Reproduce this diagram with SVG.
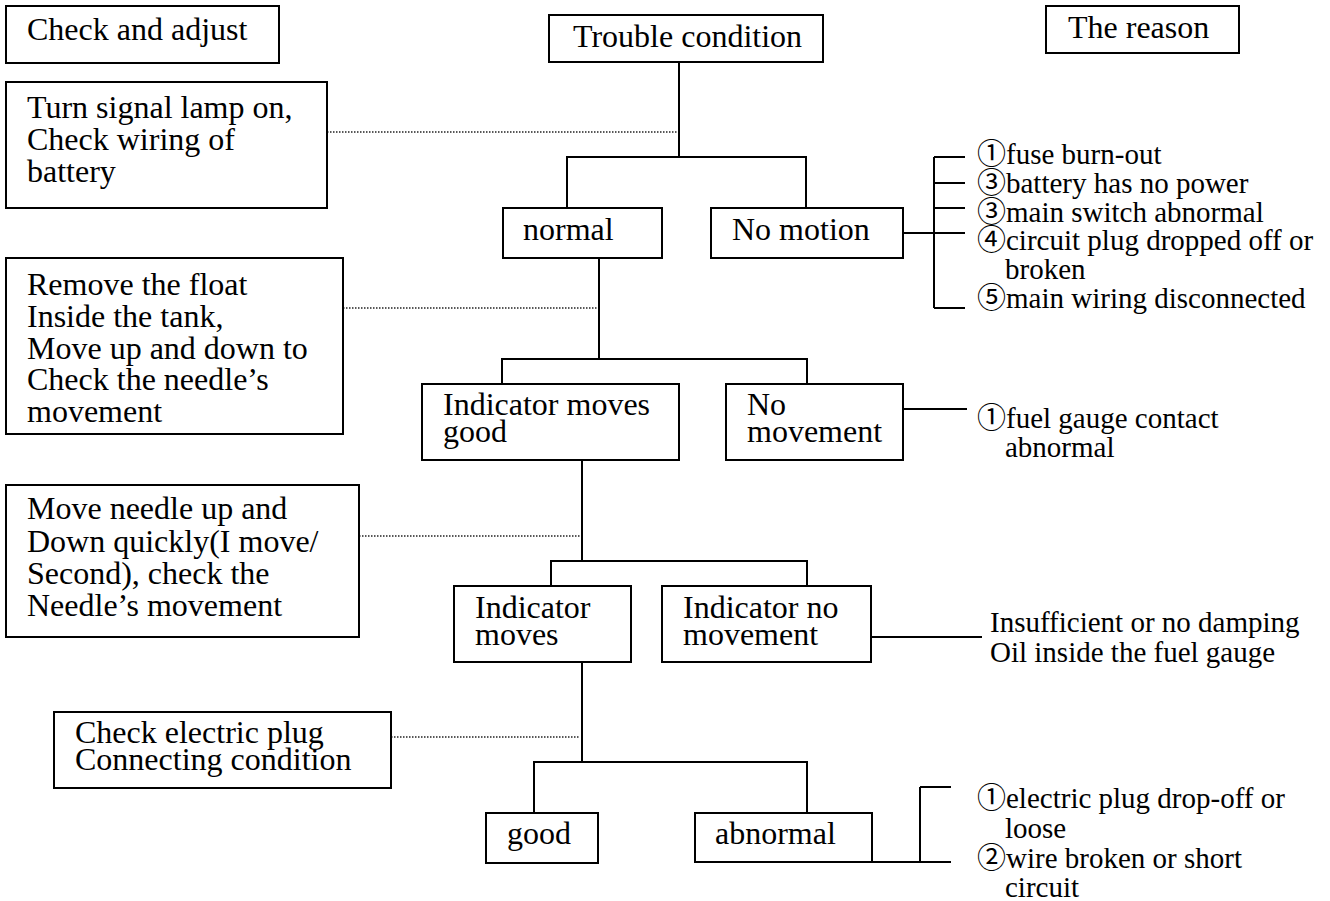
<svg xmlns="http://www.w3.org/2000/svg" width="1330" height="901" viewBox="0 0 1330 901">
<style>
.box{fill:#fff;stroke:#000;stroke-width:2}
.t{font-family:"Liberation Serif","Times New Roman","Noto Sans CJK SC",serif;font-size:32px;fill:#000}
.r{font-family:"Liberation Serif","Times New Roman","Noto Sans CJK SC",serif;font-size:29px;fill:#000}
.ln{fill:none;stroke:#000;stroke-width:2}
.dot{fill:none;stroke:#222;stroke-width:1.3;stroke-dasharray:1.5 1.5}
</style>
<rect width="1330" height="901" fill="#fff"/>
<g id="connectors">
  <path class="ln" d="M679 62V157M567 208V157H806V208"/>
  <path class="ln" d="M903 233H934M934 157V308M934 157H965M934 183H965M934 208H965M934 233H965M934 308H965"/>
  <path class="ln" d="M599 258V359M502 384V359H807V384"/>
  <path class="ln" d="M903 409H967"/>
  <path class="ln" d="M582 460V561M551 586V561H807V586"/>
  <path class="ln" d="M871 637H982"/>
  <path class="ln" d="M582 662V762M534 813V762H807V813"/>
  <path class="ln" d="M872 862H951M920 787V862M920 787H951"/>
  <path class="dot" d="M327 132H677"/>
  <path class="dot" d="M343 308H597"/>
  <path class="dot" d="M359 536H580"/>
  <path class="dot" d="M391 737H580"/>
</g>
<g id="check-adjust"><rect class="box" x="6" y="6" width="273" height="57"/><text class="t" x="27" y="40">Check and adjust</text></g>
<g id="the-reason"><rect class="box" x="1046" y="6" width="193" height="47"/><text class="t" x="1068" y="38">The reason</text></g>
<g id="trouble"><rect class="box" x="549" y="15" width="274" height="47"/><text class="t" x="573" y="47">Trouble condition</text></g>
<g id="check1"><rect class="box" x="6" y="82" width="321" height="126"/>
<text class="t"><tspan x="27" y="118">Turn signal lamp on,</tspan><tspan x="27" y="150">Check wiring of</tspan><tspan x="27" y="182">battery</tspan></text></g>
<g id="normal"><rect class="box" x="503" y="208" width="159" height="50"/><text class="t" x="523" y="240">normal</text></g>
<g id="no-motion"><rect class="box" x="711" y="208" width="192" height="50"/><text class="t" x="732" y="240">No motion</text></g>
<g id="reason1"><text class="r"><tspan x="977" y="164">①fuse burn-out</tspan><tspan x="977" y="193">③battery has no power</tspan><tspan x="977" y="222">③main switch abnormal</tspan><tspan x="977" y="250">④circuit plug dropped off or</tspan><tspan x="1005" y="279">broken</tspan><tspan x="977" y="308">⑤main wiring disconnected</tspan></text></g>
<g id="check2"><rect class="box" x="6" y="258" width="337" height="176"/>
<text class="t"><tspan x="27" y="295">Remove the float</tspan><tspan x="27" y="327">Inside the tank,</tspan><tspan x="27" y="359">Move up and down to</tspan><tspan x="27" y="390">Check the needle’s</tspan><tspan x="27" y="422">movement</tspan></text></g>
<g id="ind-good"><rect class="box" x="422" y="384" width="257" height="76"/><text class="t"><tspan x="443" y="415">Indicator moves</tspan><tspan x="443" y="442">good</tspan></text></g>
<g id="no-movement"><rect class="box" x="726" y="384" width="177" height="76"/><text class="t"><tspan x="747" y="415">No</tspan><tspan x="747" y="442">movement</tspan></text></g>
<g id="reason2"><text class="r"><tspan x="977" y="428">①fuel gauge contact</tspan><tspan x="1005" y="457">abnormal</tspan></text></g>
<g id="check3"><rect class="box" x="6" y="485" width="353" height="152"/>
<text class="t"><tspan x="27" y="519">Move needle up and</tspan><tspan x="27" y="552">Down quickly(I move/</tspan><tspan x="27" y="584">Second), check the</tspan><tspan x="27" y="616">Needle’s movement</tspan></text></g>
<g id="ind-moves"><rect class="box" x="454" y="586" width="177" height="76"/><text class="t"><tspan x="475" y="618">Indicator</tspan><tspan x="475" y="645">moves</tspan></text></g>
<g id="ind-no"><rect class="box" x="662" y="586" width="209" height="76"/><text class="t"><tspan x="683" y="618">Indicator no</tspan><tspan x="683" y="645">movement</tspan></text></g>
<g id="reason3"><text class="r"><tspan x="990" y="632">Insufficient or no damping</tspan><tspan x="990" y="662">Oil inside the fuel gauge</tspan></text></g>
<g id="check4"><rect class="box" x="54" y="712" width="337" height="76"/>
<text class="t"><tspan x="75" y="743">Check electric plug</tspan><tspan x="75" y="770">Connecting condition</tspan></text></g>
<g id="good"><rect class="box" x="486" y="813" width="112" height="50"/><text class="t" x="507" y="844">good</text></g>
<g id="abnormal"><rect class="box" x="695" y="813" width="177" height="49"/><text class="t" x="715" y="844">abnormal</text></g>
<g id="reason4"><text class="r"><tspan x="977" y="808">①electric plug drop-off or</tspan><tspan x="1005" y="838">loose</tspan><tspan x="977" y="868">②wire broken or short</tspan><tspan x="1005" y="897">circuit</tspan></text></g>
</svg>
